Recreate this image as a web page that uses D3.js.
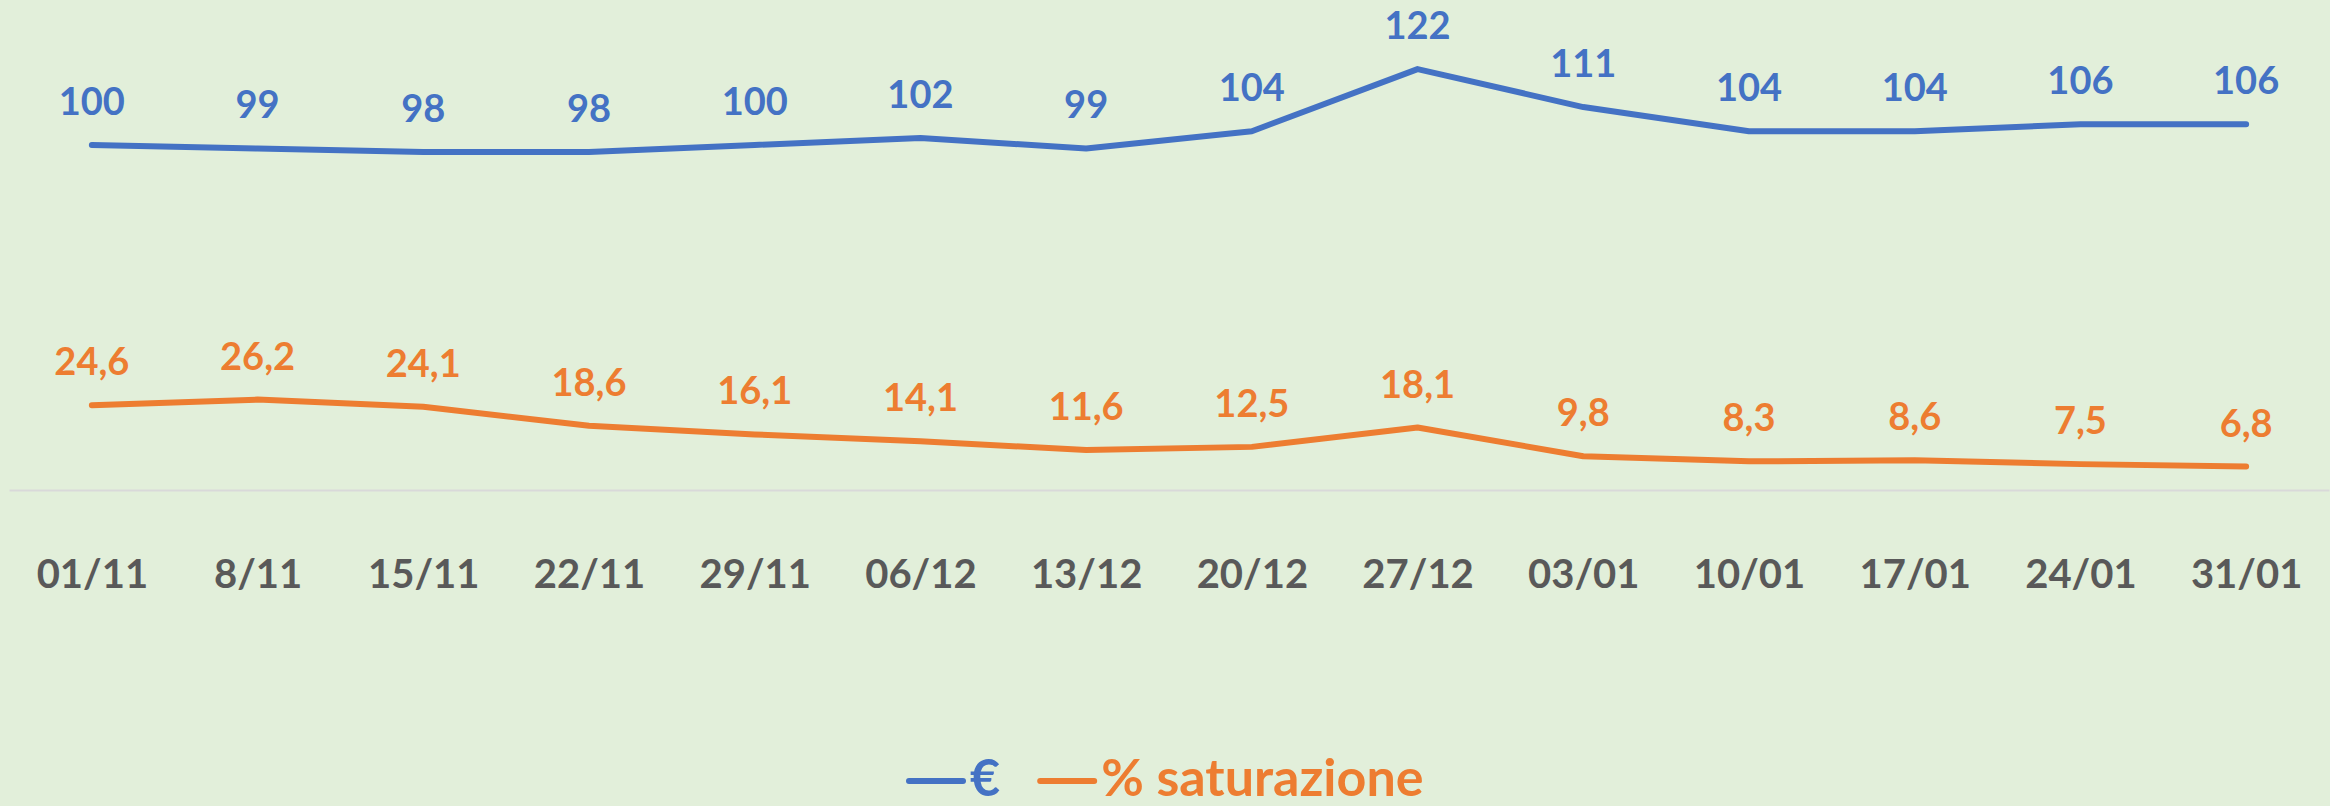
<!DOCTYPE html>
<html>
<head>
<meta charset="utf-8">
<script src="https://cdn.jsdelivr.net/npm/d3@7"></script>
<style>
    html, body { margin: 0; padding: 0; background: #e2efda; }
    svg { display: block; font-family: Lato, "Open Sans", sans-serif; }
</style>
</head>
<body>
<svg id="chart"></svg>
<script>
// data
const categories = ['01/11', '8/11', '15/11', '22/11', '29/11', '06/12', '13/12',
                    '20/12', '27/12', '03/01', '10/01', '17/01', '24/01', '31/01'];
const euro = [100, 99, 98, 98, 100, 102, 99, 104, 122, 111, 104, 104, 106, 106];
const saturazione = [24.6, 26.2, 24.1, 18.6, 16.1, 14.1, 11.6, 12.5, 18.1, 9.8, 8.3, 8.6, 7.5, 6.8];
const seriesNames = ['€', '% saturazione'];
const yDomain = [0, 140];

class LineChart {

    constructor( config ) {
        this.config = {
            parent: config.parent,
            width: config.width || 256,
            height: config.height || 256,
            margin: config.margin || {top:10, right:10, bottom:10, left:10}
        }
        this.init();
    }

    init() {
        let self = this;

        self.svg = d3.select( self.config.parent )
            .attr('width', self.config.width)
            .attr('height', self.config.height);

        self.chart = self.svg.append('g')
            .attr('transform', `translate(${self.config.margin.left}, ${self.config.margin.top})`);

        self.inner_width = self.config.width - self.config.margin.left - self.config.margin.right;
        self.inner_height = self.config.height - self.config.margin.top - self.config.margin.bottom;

        self.xscale = d3.scalePoint()
            .domain( categories )
            .range( [0, self.inner_width] )
            .padding( 0.5 );

        self.yscale = d3.scaleLinear()
            .domain( yDomain )
            .range( [self.inner_height, 0] );

        self.xaxis = d3.axisBottom( self.xscale )
            .tickSize(0)
            .tickSizeOuter(0);

        self.xaxis_group = self.chart.append('g')
            .attr('transform', `translate(0, ${self.inner_height})`);

        self.fmt = d3.formatLocale({decimal: ',', thousands: '.', grouping: [3], currency: ['', '€']});

        self.series = [
            {name: seriesNames[0], values: euro, color: '#4472c4', format: self.fmt.format('d')},
            {name: seriesNames[1], values: saturazione, color: '#ed7d31', format: self.fmt.format('.1f')}
        ];
    }

    render() {
        let self = this;

        self.xaxis_group.call( self.xaxis );
        self.xaxis_group.select('.domain')
            .attr('stroke', '#d9d9d9')
            .attr('stroke-width', 2);
        self.xaxis_group.selectAll('text')
            .attr('y', 98)
            .attr('dy', 0)
            .attr('fill', '#595959')
            .style('font-size', '40px')
            .style('font-weight', 'bold')
            .style('font-family', 'Lato, "Open Sans", sans-serif');

        const line = d3.line()
            .x( (d, i) => self.xscale( categories[i] ) )
            .y( d => self.yscale( d ) );

        self.series.forEach( s => {
            self.chart.append('path')
                .attr('d', line( s.values ))
                .attr('stroke', s.color)
                .attr('stroke-width', 6)
                .attr('stroke-linecap', 'round')
                .attr('stroke-linejoin', 'round')
                .attr('fill', 'none');

            self.chart.append('g')
                .selectAll('text')
                .data( s.values )
                .join('text')
                .attr('x', (d, i) => self.xscale( categories[i] ))
                .attr('y', d => self.yscale( d ) - 30)
                .attr('text-anchor', 'middle')
                .attr('fill', s.color)
                .style('font-size', '38px')
                .style('font-weight', 'bold')
                .text( d => s.format( d ) );
        });

        // legend
        const legend = self.svg.append('g')
            .attr('transform', 'translate(909, 0)');
        let lx = 0;
        self.series.forEach( s => {
            legend.append('line')
                .attr('x1', lx).attr('x2', lx + 54)
                .attr('y1', 781).attr('y2', 781)
                .attr('stroke', s.color)
                .attr('stroke-width', 6)
                .attr('stroke-linecap', 'round');
            const t = legend.append('text')
                .attr('x', lx + 61)
                .attr('y', 796)
                .attr('fill', s.color)
                .style('font-size', '52px')
                .style('font-weight', 'bold')
                .text( s.name );
            lx += 61 + t.node().getComputedTextLength() + 40;
        });
    }
}

const chart = new LineChart({
    parent: '#chart',
    width: 2330,
    height: 806,
    margin: {top: 7, right: 1, bottom: 316, left: 9}
});
chart.render();
</script>
</body>
</html>
